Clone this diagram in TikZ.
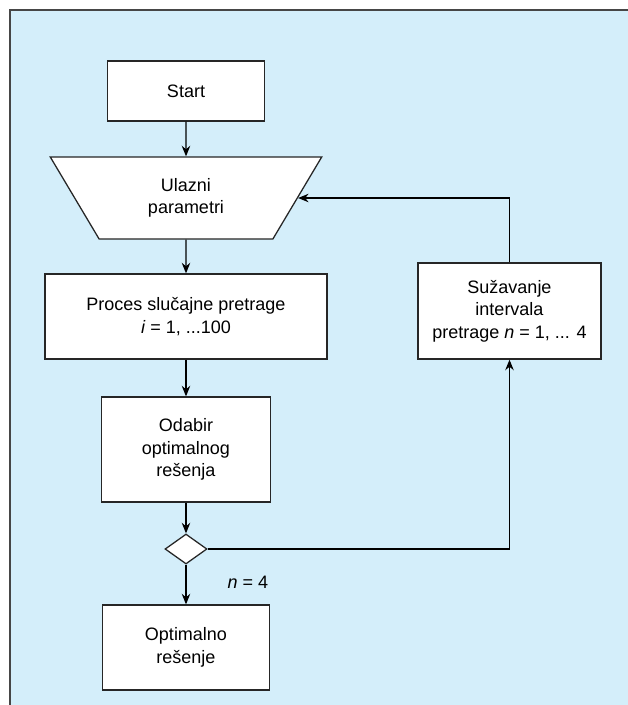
\documentclass[tikz,border=0pt]{standalone}
\usepackage{fontspec}
\setmainfont{Liberation Sans}
\usetikzlibrary{arrows.meta,shapes.geometric}
\definecolor{panelblue}{RGB}{212,238,250}
\definecolor{framegray}{RGB}{70,70,70}

\begin{document}
\begin{tikzpicture}[
  box/.style={draw=black!85, fill=white, line width=0.9pt, align=center, inner sep=2pt,
              font=\fontsize{12.8}{16.1}\selectfont},
  inbox/.style={box, trapezium, trapezium stretches=true, trapezium angle=63,
                shape border rotate=180},
  test/.style={draw=black!85, fill=white, line width=0.9pt, diamond, inner sep=0pt},
  >={Stealth[length=7.5pt,width=6pt]}, line width=0.9pt
]
  \useasboundingbox (0,0) rectangle (15.7,-17.625);
  \fill[panelblue] (0.25,-0.25) rectangle (15.7,-17.625);
  \draw[framegray, line width=1.5pt] (0.25,-17.625) -- (0.25,-0.25) -- (15.7,-0.25);

  \node[box, minimum width=3.925cm, minimum height=1.5cm]   (start) at (4.65,-2.275)  {Start};
  \node[inbox, minimum width=6.8cm, minimum height=2.05cm]  (inp)   at (4.65,-4.95)   {Ulazni\\parametri};
  \node[box, minimum width=7.05cm, minimum height=2.125cm]  (proc)  at (4.65,-7.9125) {Proces slučajne pretrage\\\textit{i} = 1, ...100};
  \node[box, minimum width=4.225cm, minimum height=2.625cm] (odab)  at (4.65,-11.2375) {Odabir\\optimalnog\\rešenja};
  \node[test, minimum width=1.05cm, minimum height=0.75cm]  (dia)   at (4.65,-13.725) {};
  \node[box, minimum width=4.175cm, minimum height=2.125cm] (opt)   at (4.65,-16.1875) {Optimalno\\rešenje};
  \node[box, minimum width=4.575cm, minimum height=2.4cm]   (suz)   at (12.7375,-7.775) {Sužavanje\\intervala\\pretrage \textit{n} = 1, ... 4};
  \node[font=\fontsize{12.8}{16.1}\selectfont] (cond) at (6.2,-14.55) {\textit{n} = 4};

  \draw[->] (start) -- (inp);
  \draw[->] (inp) -- (proc);
  \draw[->] (proc) -- (odab);
  \draw[->] (odab) -- (dia);
  \draw[->] (dia) -- (opt);
  \draw[->] (dia.east) -| (suz.south);
  \draw[->] (suz.north) |- (inp.east);
\end{tikzpicture}
\end{document}
